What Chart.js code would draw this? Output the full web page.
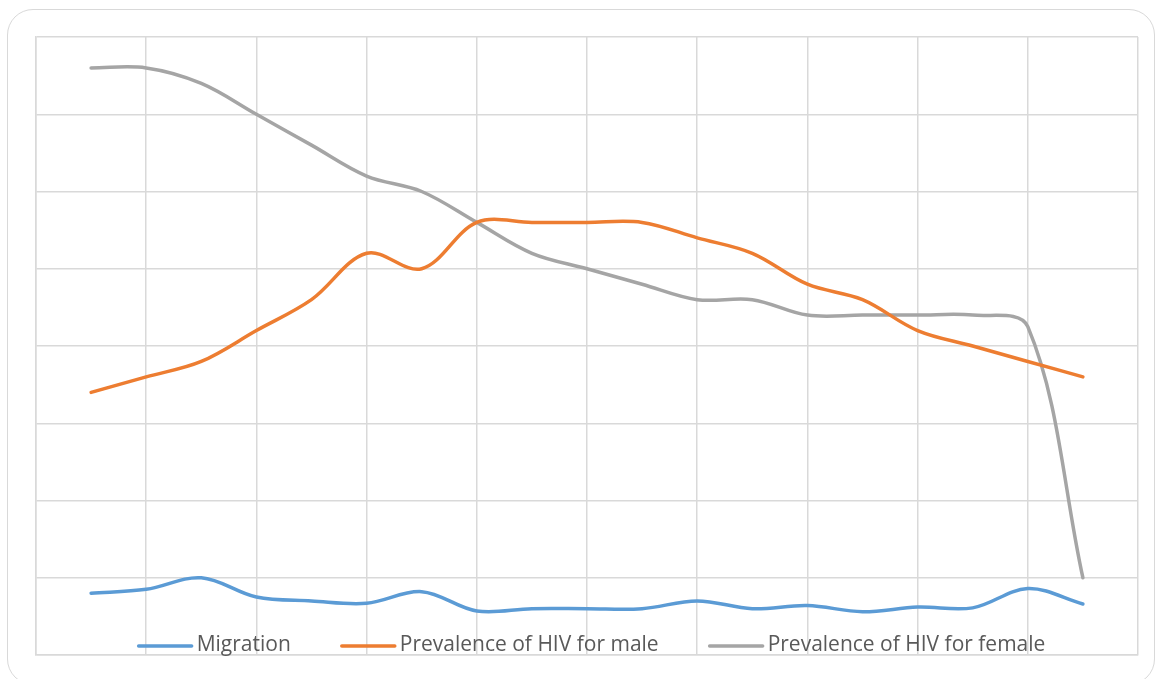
<!DOCTYPE html>
<html>
<head>
<meta charset="utf-8">
<script src="https://cdn.jsdelivr.net/npm/chart.js@4"></script>
<style>
  html, body { margin: 0; padding: 0; background: #ffffff; }
  #wrap { position: relative; width: 1159px; height: 679px; overflow: hidden; }
  #frame { position: absolute; left: 7px; top: 9px; width: 1148px; height: 676px;
           border: 1.5px solid #d9d9d9; border-radius: 26px; box-sizing: border-box; }
  canvas { position: absolute; left: 0; top: 0; }
</style>
</head>
<body>
<div id="wrap">
  <div id="frame"></div>
  <canvas id="c" width="1159" height="679"></canvas>
</div>
<script>
// Category positions (1..19), no visible labels in the original
const categories = [1, 2, 3, 4, 5, 6, 7, 8, 9, 10, 11, 12, 13, 14, 15, 16, 17, 18, 19];

const migration = [0.80, 0.85, 1.00, 0.75, 0.70, 0.67, 0.82, 0.57, 0.60, 0.60,
                   0.60, 0.70, 0.60, 0.64, 0.56, 0.62, 0.61, 0.86, 0.66];
const hivMale   = [3.4, 3.6, 3.8, 4.2, 4.6, 5.2, 5.0, 5.6, 5.6, 5.6,
                   5.6, 5.4, 5.2, 4.8, 4.6, 4.2, 4.0, 3.8, 3.6];
const hivFemale = [7.6, 7.6, 7.4, 7.0, 6.6, 6.2, 6.0, 5.6, 5.2, 5.0,
                   4.8, 4.6, 4.6, 4.4, 4.4, 4.4, 4.4, 4.25, 1.0];

const seriesLabels = ["Migration", "Prevalence of HIV for male", "Prevalence of HIV for female"];
const seriesColors = ["#5B9BD5", "#ED7D31", "#A5A5A5"];

const toXY = arr => arr.map((v, i) => ({ x: categories[i], y: v }));

const insideLegend = {
  id: 'insideLegend',
  afterDraw(chart) {
    const ctx = chart.ctx;
    const area = chart.chartArea;
    ctx.save();
    ctx.font = '21px "Open Sans"';
    ctx.textBaseline = 'middle';
    const lineLen = 53, lineGap = 5, itemGap = 51;
    const widths = seriesLabels.map(t => ctx.measureText(t).width);
    let total = 0;
    widths.forEach((w, i) => { total += lineLen + lineGap + w + (i < widths.length - 1 ? itemGap : 0); });
    let x = (area.left + area.right) / 2 + 5 - total / 2;
    const y = area.bottom - 10;
    seriesLabels.forEach((t, i) => {
      ctx.strokeStyle = seriesColors[i];
      ctx.lineWidth = 3.5;
      ctx.lineCap = 'round';
      ctx.beginPath();
      ctx.moveTo(x, y + 1);
      ctx.lineTo(x + lineLen, y + 1);
      ctx.stroke();
      ctx.fillStyle = '#595959';
      ctx.fillText(t, x + lineLen + lineGap, y);
      x += lineLen + lineGap + widths[i] + itemGap;
    });
    ctx.restore();
  }
};

new Chart(document.getElementById('c'), {
  type: 'line',
  data: {
    datasets: [
      { label: seriesLabels[0], data: toXY(migration) },
      { label: seriesLabels[1], data: toXY(hivMale) },
      { label: seriesLabels[2], data: toXY(hivFemale) }
    ].map((d, i) => Object.assign(d, {
      borderColor: seriesColors[i],
      backgroundColor: seriesColors[i],
      borderWidth: 3.5,
      pointRadius: 0,
      pointHoverRadius: 0,
      tension: 0.35,
      fill: false,
      borderCapStyle: 'round'
    }))
  },
  options: {
    responsive: false,
    animation: false,
    devicePixelRatio: 1,
    layout: { padding: { left: 36, top: 37, right: 21, bottom: 24 } },
    plugins: { legend: { display: false }, tooltip: { enabled: false } },
    scales: {
      x: {
        type: 'linear', min: 0, max: 20,
        ticks: { display: false, stepSize: 2 },
        grid: { color: '#d9d9d9', lineWidth: 1.5, drawTicks: false },
        border: { display: true, color: '#d9d9d9', width: 1.5 }
      },
      y: {
        min: 0, max: 8,
        ticks: { display: false, stepSize: 1 },
        grid: { color: '#d9d9d9', lineWidth: 1.5, drawTicks: false },
        border: { display: true, color: '#d9d9d9', width: 1.5 }
      }
    }
  },
  plugins: [insideLegend]
});
</script>
</body>
</html>
